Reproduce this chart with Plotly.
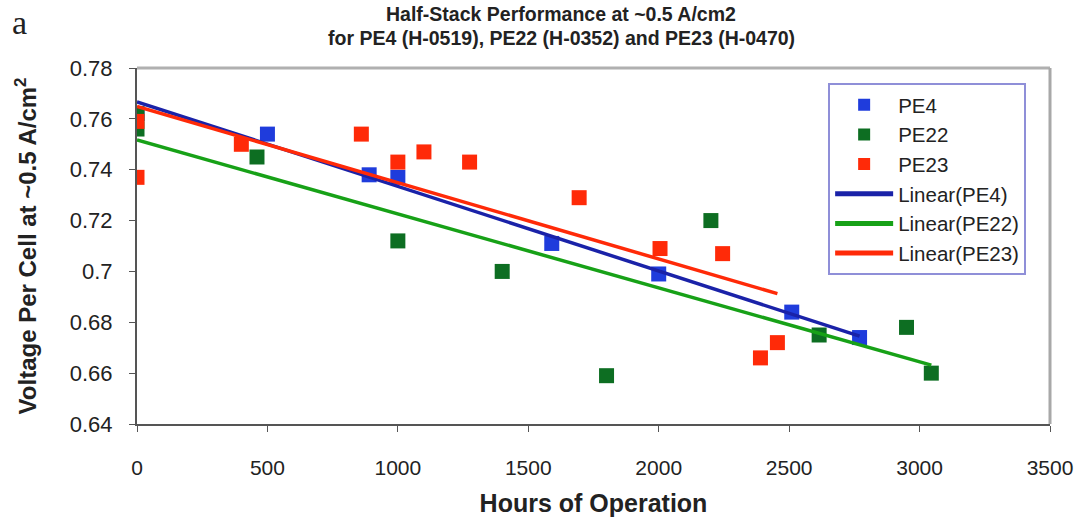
import numpy as np
import plotly.graph_objects as go

# ---- data ----
pe4_hours = [0, 500, 890, 1000, 1590, 2000, 2510, 2770]
pe4_volts = [0.762, 0.754, 0.738, 0.737, 0.711, 0.699, 0.684, 0.674]

pe22_hours = [0, 0, 460, 1000, 1400, 1800, 2200, 2615, 2950, 3045]
pe22_volts = [0.762, 0.756, 0.745, 0.712, 0.700, 0.659, 0.720, 0.675, 0.678, 0.660]

pe23_hours = [0, 0, 400, 860, 1000, 1100, 1275, 1695, 2005, 2245, 2390, 2455]
pe23_volts = [0.759, 0.737, 0.750, 0.754, 0.743, 0.747, 0.743, 0.729, 0.709, 0.707, 0.666, 0.672]

x_ticks = [0, 500, 1000, 1500, 2000, 2500, 3000, 3500]
y_ticks = [0.64, 0.66, 0.68, 0.70, 0.72, 0.74, 0.76, 0.78]
y_tick_text = ["0.64", "0.66", "0.68", "0.7", "0.72", "0.74", "0.76", "0.78"]

title_lines = ["Half-Stack Performance at ~0.5 A/cm2",
               "for PE4 (H-0519), PE22 (H-0352) and PE23 (H-0470)"]

series = [
    ("PE4", pe4_hours, pe4_volts, "#1f3cdc", "#1a22a8"),
    ("PE22", pe22_hours, pe22_volts, "#0d6e22", "#17a117"),
    ("PE23", pe23_hours, pe23_volts, "#ff2a08", "#ff2a08"),
]

fig = go.Figure()
for name, hx, vy, mcol, lcol in series:
    fig.add_trace(go.Scatter(x=hx, y=vy, mode="markers", name=name,
                             marker=dict(symbol="square", size=15, color=mcol)))
for name, hx, vy, mcol, lcol in series:
    slope, icpt = np.polyfit(hx, vy, 1)
    xs = np.array([min(hx), max(hx)])
    fig.add_trace(go.Scatter(x=xs, y=icpt + slope * xs, mode="lines",
                             name=f"Linear({name})",
                             line=dict(color=lcol, width=3.5)))

fig.update_layout(
    width=1083, height=519,
    margin=dict(l=137, r=33, t=68, b=95),
    paper_bgcolor="white", plot_bgcolor="white",
    font=dict(family="Liberation Sans, Arial, sans-serif", color="#222"),
    xaxis=dict(range=[0, 3500], tickvals=x_ticks, showgrid=False, zeroline=False,
               showline=True, linecolor="#555", linewidth=2, mirror=False,
               ticks="outside", ticklen=6, tickcolor="#555", automargin=False,
               tickfont=dict(size=21, color="#222"),
               ticklabelstandoff=18,
               title=dict(text="<b>Hours of Operation</b>", standoff=16,
                          font=dict(size=25, color="#222"))),
    yaxis=dict(range=[0.64, 0.78], tickvals=y_ticks, ticktext=y_tick_text, showgrid=False, zeroline=False,
               showline=True, linecolor="#555", linewidth=2, automargin=False,
               ticks="outside", ticklen=6, tickcolor="#555",
               tickfont=dict(size=22, color="#222"), ticklabelstandoff=12,
               title=dict(text="<b>Voltage Per Cell at ~0.5 A/cm<sup>2</sup></b>", standoff=26,
                          font=dict(size=24, color="#222"))),
    legend=dict(x=0.757, xanchor="left", y=0.958, yanchor="top",
                bordercolor="#8f8fd8", borderwidth=2, bgcolor="white",
                font=dict(size=20.5, color="#222"), tracegroupgap=0,
                itemsizing="constant", itemwidth=58),
    showlegend=True,
)

# two-line bold title
for txt, ypos in zip(title_lines, [1.152, 1.084]):
    fig.add_annotation(text=f"<b>{txt}</b>", xref="paper", yref="paper",
                       x=(561 - 137) / 913, y=ypos, xanchor="center", yanchor="middle",
                       showarrow=False, font=dict(size=19.5, color="#222"))

# gray frame on top and right of the plot area
fig.add_shape(type="line", xref="paper", yref="paper", x0=0, x1=1, y0=1, y1=1,
              line=dict(color="#b0b0b0", width=3))
fig.add_shape(type="line", xref="paper", yref="paper", x0=1, x1=1, y0=0, y1=1,
              line=dict(color="#a8a8a8", width=3))

fig.add_annotation(text="a", xref="paper", yref="paper", x=-0.139, y=1.129,
                   xanchor="left", yanchor="middle", showarrow=False,
                   font=dict(size=34, family="Liberation Serif, serif", color="#222"))

fig.write_html("out.html", config={"displayModeBar": False},
               post_script="document.body.style.margin='0';")
